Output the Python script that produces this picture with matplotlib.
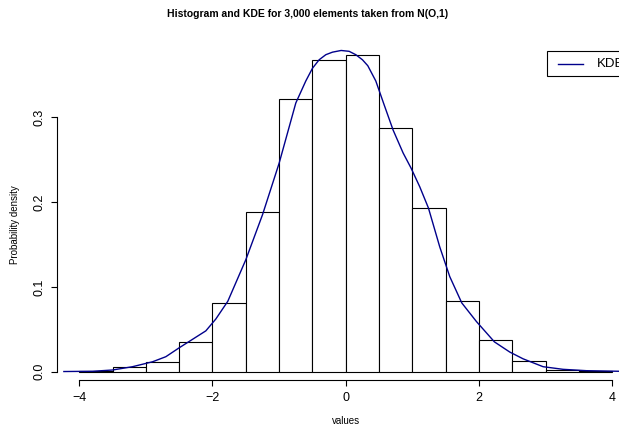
import numpy as np
import matplotlib
matplotlib.use('Agg')
import matplotlib.pyplot as plt
from matplotlib.lines import Line2D
from matplotlib.patches import Rectangle

plt.rcParams['font.family'] = ['Liberation Sans', 'DejaVu Sans']

# histogram: bin edges and counts (3000 samples, bin width 0.5)
bin_edges = [-4.0, -3.5, -3.0, -2.5, -2.0, -1.5, -1.0, -0.5, 0.0,
             0.5, 1.0, 1.5, 2.0, 2.5, 3.0, 3.5, 4.0]
counts = [1, 8, 16, 53, 122, 282, 483, 551, 560, 431, 290, 125, 55, 19, 3, 1]
n_total = 3000

# KDE curve
kde_x = [-4.23, -3.8, -3.5, -3.2, -2.9, -2.7, -2.5, -2.3, -2.1, -1.95, -1.77,
         -1.5, -1.25, -1.0, -0.75, -0.6, -0.5, -0.4, -0.3, -0.2, -0.07, 0.05,
         0.15, 0.25, 0.33, 0.45, 0.57, 0.71, 0.86, 0.98, 1.11, 1.24, 1.41,
         1.56, 1.74, 1.96, 2.23, 2.46, 2.66, 2.96, 3.26, 3.61, 4.1, 4.35]
kde_y = [0.0, 0.0003, 0.0018, 0.0057, 0.0115, 0.0175, 0.028, 0.038, 0.048,
         0.062, 0.083, 0.132, 0.185, 0.246, 0.317, 0.343, 0.358, 0.368, 0.374,
         0.377, 0.379, 0.378, 0.374, 0.368, 0.361, 0.343, 0.316, 0.285, 0.258,
         0.240, 0.218, 0.193, 0.147, 0.112, 0.081, 0.059, 0.035, 0.023, 0.015,
         0.0057, 0.0026, 0.001, 0.0003, 0.0001]

x_ticks = [-4, -2, 0, 2, 4]
y_ticks = [0.0, 0.1, 0.2, 0.3]
y_tick_labels = ['0.0', '0.1', '0.2', '0.3']

W, H = 619, 428
fig = plt.figure(figsize=(W / 100, H / 100), dpi=100)

# plot region in pixels (right side runs past the image edge, like the original)
left_px, right_px, top_px, bottom_px = 57, 634, 37, 380
ax = fig.add_axes([left_px / W, 1 - bottom_px / H,
                   (right_px - left_px) / W, (bottom_px - top_px) / H])

edges = np.array(bin_edges)
widths = np.diff(edges)
density = np.array(counts) / (n_total * widths)
ax.bar(edges[:-1], density, width=widths, align='edge', color='white',
       edgecolor='black', linewidth=0.8)
ax.plot(kde_x, kde_y, color='#00008B', linewidth=1.0)

ax.set_xlim(-4.333, 4.324)
ax.set_ylim(-0.01, 0.3949)

for s in ['top', 'right']:
    ax.spines[s].set_visible(False)
ax.spines['bottom'].set_bounds(-4, 4)
ax.spines['left'].set_bounds(0, 0.3)
ax.spines['bottom'].set_linewidth(0.8)
ax.spines['left'].set_linewidth(0.8)

ax.set_xticks(x_ticks)
ax.set_yticks(y_ticks)
ax.set_yticklabels(y_tick_labels, rotation=90, va='center')
ax.tick_params(axis='both', length=4.5, width=0.8, labelsize=9, direction='out')
ax.tick_params(axis='x', pad=4)
ax.tick_params(axis='y', pad=4)

# titles and labels placed in figure pixels
fig.text(307.5 / W, 1 - 14 / H,
         'Histogram and KDE for 3,000 elements taken from N(O,1)',
         ha='center', va='center', fontsize=7.5, fontweight='bold')
fig.text(346 / W, 1 - 421 / H, 'values', ha='center', va='center', fontsize=7)
fig.text(15 / W, 1 - 225 / H, 'Probability density', ha='center', va='center',
         rotation=90, fontsize=7)

# legend box (top right, cut by the image edge)
lx0, lx1, ly0, ly1 = 547, 640, 51, 76
fig.add_artist(Rectangle((lx0 / W, 1 - ly1 / H), (lx1 - lx0) / W, (ly1 - ly0) / H,
                         transform=fig.transFigure, facecolor='white',
                         edgecolor='black', linewidth=0.8))
fig.add_artist(Line2D([558 / W, 583 / W], [1 - 64 / H, 1 - 64 / H],
                      transform=fig.transFigure, color='#00008B', linewidth=1.0))
fig.text(597 / W, 1 - 64 / H, 'KDE', ha='left', va='center', fontsize=9.5)

fig.savefig('out.png', dpi=100)
